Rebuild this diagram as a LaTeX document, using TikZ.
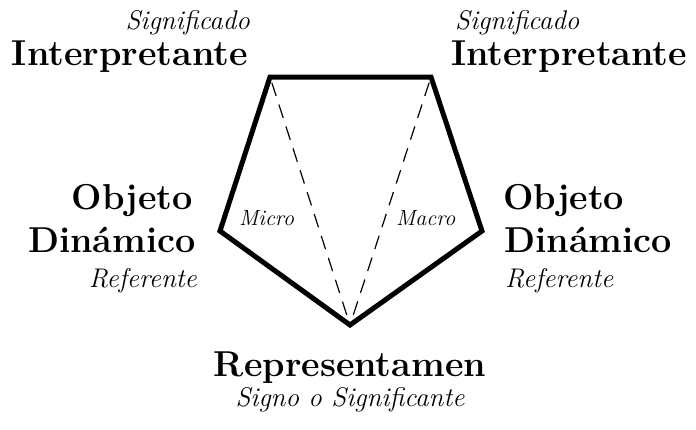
\documentclass[tikz,border=0pt]{standalone}
\usepackage{fontspec}
\begin{document}
\begin{tikzpicture}[x=1pt,y=-1pt,
  bold/.style={inner sep=0pt,font=\fontsize{36}{40}\selectfont\bfseries},
  ital/.style={inner sep=0pt,font=\fontsize{27}{30}\selectfont\itshape},
  small/.style={inner sep=0pt,font=\fontsize{22}{26}\selectfont\itshape},
  frame/.style={line width=5pt,line join=miter},
  link/.style={line width=1.2pt,dash pattern=on 14pt off 9pt,shorten >=5pt,shorten <=6pt}]
\useasboundingbox (0,0) rectangle (696,429);
\coordinate (tl) at (270,77);
\coordinate (tr) at (431,77);
\coordinate (r) at (482,231);
\coordinate (b) at (350,325);
\coordinate (l) at (220,231);
\draw[frame] (tl) -- (tr) -- (r) -- (b) -- (l) -- cycle;
\draw[link] (tl) -- (b);
\draw[link] (tr) -- (b);
% top left
\node[ital,anchor=base east] (sigL) at (250,29) {Significado};
\node[bold,anchor=base east] (intL) at (248,65) {Interpretante};
% top right
\node[ital,anchor=base west] (sigR) at (455,29) {Significado};
\node[bold,anchor=base west] (intR) at (451,65) {Interpretante};
% left
\node[bold,anchor=base east] (objL) at (193,209) {Objeto};
\node[bold,anchor=base east] (dinL) at (196,252) {Dinámico};
\node[ital,anchor=base east] (refL) at (197,287) {Referente};
% right
\node[bold,anchor=base west] (objR) at (503,209) {Objeto};
\node[bold,anchor=base west] (dinR) at (504,252) {Dinámico};
\node[ital,anchor=base west] (refR) at (505,287) {Referente};
% bottom
\node[bold,anchor=base] (rep) at (350,376) {Representamen};
\node[ital,anchor=base] (sig) at (350,406) {Signo o Significante};
% inner labels
\node[small,anchor=base west] (micro) at (239,225) {Micro};
\node[small,anchor=base west] (macro) at (396,225) {Macro};
\end{tikzpicture}
\end{document}
